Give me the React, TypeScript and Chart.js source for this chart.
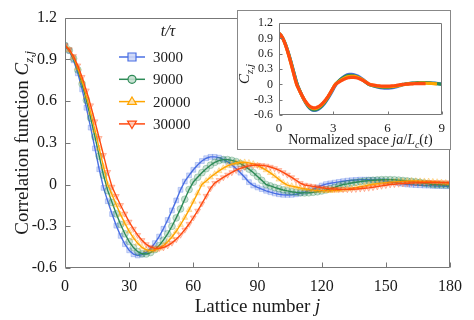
import React, { useEffect, useRef } from "react";
import { Chart, registerables } from "chart.js";

Chart.register(...registerables);

// ---------- data ----------
const latticeJ = [
  0, 2, 4, 6, 8, 10, 12, 14, 16, 18, 20, 22, 24, 26, 28, 30, 32, 34, 36, 38,
  40, 42, 44, 46, 48, 50, 52, 54, 56, 58, 60, 62, 64, 66, 68, 70, 72, 74, 76, 78,
  80, 82, 84, 86, 88, 90, 92, 94, 96, 98, 100, 102, 104, 106, 108, 110, 112, 114, 116, 118,
  120, 122, 124, 126, 128, 130, 132, 134, 136, 138, 140, 142, 144, 146, 148, 150, 152, 154, 156, 158,
  160, 162, 164, 166, 168, 170, 172, 174, 176, 178, 180,
];

const corr3000 = [
  1.0, 0.961, 0.893, 0.799, 0.684, 0.552, 0.409, 0.26, 0.11,
  -0.024, -0.12, -0.212, -0.296, -0.369, -0.429, -0.473, -0.501, -0.51,
  -0.504, -0.487, -0.46, -0.421, -0.374, -0.318, -0.255, -0.186, -0.114, -0.038,
  0.022, 0.066, 0.106, 0.141, 0.169, 0.189, 0.199,
  0.199, 0.193, 0.181, 0.164, 0.141, 0.115, 0.085, 0.052, 0.017,
  -0.007, -0.021, -0.033, -0.045, -0.055, -0.064, -0.07, -0.074, -0.075,
  -0.074, -0.07, -0.064, -0.055, -0.045, -0.033, -0.021, -0.007,
  0.003, 0.009, 0.014, 0.019, 0.024, 0.028, 0.031, 0.033, 0.035, 0.035,
  0.035, 0.033, 0.031, 0.028, 0.025, 0.021, 0.016, 0.011, 0.005, 0.0,
  -0.002, -0.004, -0.005, -0.007, -0.008, -0.01, -0.011, -0.011, -0.012, -0.012,
];

const corr9000 = [
  1.0, 0.965, 0.906, 0.824, 0.723, 0.606, 0.478, 0.343, 0.204, 0.067,
  -0.044, -0.129, -0.211, -0.287, -0.354, -0.41, -0.453, -0.483, -0.498,
  -0.499, -0.489, -0.468, -0.439, -0.4, -0.354, -0.3, -0.24, -0.175, -0.106, -0.036,
  0.018, 0.052, 0.085, 0.114, 0.139, 0.159, 0.172, 0.179,
  0.179, 0.174, 0.165, 0.151, 0.132, 0.111, 0.086, 0.058, 0.03, 0.0,
  -0.01, -0.021, -0.03, -0.039, -0.046, -0.052, -0.056, -0.059, -0.06,
  -0.059, -0.056, -0.052, -0.046, -0.039, -0.03, -0.021, -0.01, 0.0,
  0.005, 0.011, 0.016, 0.021, 0.025, 0.028, 0.031, 0.033, 0.035, 0.035,
  0.035, 0.034, 0.032, 0.029, 0.026, 0.023, 0.019, 0.015, 0.01, 0.005, 0.0,
  -0.001, -0.002, -0.003, -0.004,
];

const corr20000 = [
  1.0, 0.968, 0.913, 0.838, 0.744, 0.636, 0.517, 0.39, 0.26, 0.128, 0.0,
  -0.074, -0.147, -0.216, -0.279, -0.336, -0.384, -0.423, -0.452, -0.469, -0.475,
  -0.471, -0.459, -0.439, -0.411, -0.377, -0.336, -0.289, -0.238, -0.182, -0.123, -0.062, 0.0,
  0.026, 0.052, 0.076, 0.098, 0.118, 0.134, 0.147, 0.155, 0.16,
  0.16, 0.156, 0.148, 0.136, 0.122, 0.104, 0.084, 0.061, 0.037, 0.013,
  -0.004, -0.011, -0.018, -0.025, -0.03, -0.036, -0.04, -0.043, -0.044, -0.045,
  -0.045, -0.043, -0.041, -0.037, -0.033, -0.028, -0.023, -0.016, -0.01, -0.003,
  0.002, 0.006, 0.01, 0.013, 0.016, 0.019, 0.021, 0.023, 0.024, 0.025,
  0.025, 0.024, 0.023, 0.022, 0.02, 0.018, 0.015, 0.012, 0.009,
];

const corr30000 = [
  1.0, 0.971, 0.922, 0.855, 0.772, 0.675, 0.568, 0.453, 0.333, 0.211, 0.089,
  -0.017, -0.084, -0.149, -0.21, -0.268, -0.319, -0.364, -0.401, -0.43, -0.449, -0.459,
  -0.459, -0.453, -0.439, -0.419, -0.394, -0.362, -0.325, -0.284, -0.238, -0.189, -0.137, -0.083, -0.028,
  0.01, 0.031, 0.051, 0.07, 0.087, 0.103, 0.116, 0.126, 0.134, 0.138, 0.14,
  0.138, 0.134, 0.126, 0.116, 0.103, 0.087, 0.07, 0.051, 0.031, 0.01,
  -0.003, -0.008, -0.013, -0.018, -0.023, -0.027, -0.03, -0.032, -0.034, -0.035,
  -0.035, -0.034, -0.033, -0.03, -0.027, -0.024, -0.02, -0.015, -0.01, -0.005,
  0.0, 0.002, 0.005, 0.007, 0.009, 0.011, 0.012, 0.013, 0.014, 0.015, 0.015,
  0.015, 0.014, 0.014, 0.013,
];

const seriesValues = [corr3000, corr9000, corr20000, corr30000];
const seriesLabels = ["3000", "9000", "20000", "30000"];
const coherenceLengths = [17.5, 19.0, 20.6, 22.2];

const xTicks = [0, 30, 60, 90, 120, 150, 180];
const yTicks = [-0.6, -0.3, 0, 0.3, 0.6, 0.9, 1.2];
const yTickLabels = ["-0.6", "-0.3", "0", "0.3", "0.6", "0.9", "1.2"];
const insetXTicks = [0, 3, 6, 9];

// ---------- styles ----------
const seriesColors = ["#4a6fe3", "#2e8b57", "#ffa500", "#ff4a10"];
const markerStyles = ["rect", "circle", "triangle", "triangle"];
const markerRotations = [0, 0, 0, 180];
const FONT = "'Liberation Serif', 'Times New Roman', serif";
const AXIS_COLOR = "#777";
const TEXT_COLOR = "#1a1a1a";

function rgba(hex: string, a: number) {
  const n = parseInt(hex.slice(1), 16);
  return `rgba(${(n >> 16) & 255},${(n >> 8) & 255},${n & 255},${a})`;
}

type Seg = { t: string; it?: boolean; sub?: boolean };

function drawRich(ctx: CanvasRenderingContext2D, segs: Seg[], x: number, y: number, size: number) {
  const fontFor = (s: Seg) =>
    `${s.it ? "italic " : ""}${s.sub ? Math.round(size * 0.7) : size}px ${FONT}`;
  let total = 0;
  for (const s of segs) {
    ctx.font = fontFor(s);
    total += ctx.measureText(s.t).width;
  }
  let cx = x - total / 2;
  ctx.textAlign = "left";
  ctx.textBaseline = "alphabetic";
  ctx.fillStyle = TEXT_COLOR;
  for (const s of segs) {
    ctx.font = fontFor(s);
    ctx.fillText(s.t, cx, y + (s.sub ? size * 0.28 : 0));
    cx += ctx.measureText(s.t).width;
  }
}

function drawFrame(chart: any, tickLen: number, xVals: number[], yVals: number[]) {
  const { ctx, chartArea: a, scales } = chart;
  const L = Math.round(a.left) + 0.5;
  const R = Math.round(a.right) - 0.5;
  const T = Math.round(a.top) + 0.5;
  const B = Math.round(a.bottom) - 0.5;
  ctx.save();
  ctx.strokeStyle = AXIS_COLOR;
  ctx.lineWidth = 1;
  ctx.beginPath();
  ctx.rect(L, T, R - L, B - T);
  for (const v of xVals) {
    const px = Math.round(scales.x.getPixelForValue(v)) + 0.5;
    ctx.moveTo(px, B);
    ctx.lineTo(px, B - tickLen);
  }
  for (const v of yVals) {
    const py = Math.round(scales.y.getPixelForValue(v)) + 0.5;
    ctx.moveTo(L, py);
    ctx.lineTo(L + tickLen, py);
  }
  ctx.stroke();
  ctx.restore();
}

function drawMarker(ctx: CanvasRenderingContext2D, k: number, x: number, y: number, r: number) {
  const style = markerStyles[k];
  ctx.beginPath();
  if (style === "rect") {
    ctx.rect(x - r, y - r, 2 * r, 2 * r);
  } else if (style === "circle") {
    ctx.arc(x, y, r, 0, Math.PI * 2);
  } else {
    const s = markerRotations[k] === 180 ? -1 : 1;
    ctx.moveTo(x, y - s * r * 1.15);
    ctx.lineTo(x + r * 1.1, y + s * r * 0.7);
    ctx.lineTo(x - r * 1.1, y + s * r * 0.7);
    ctx.closePath();
  }
  ctx.fillStyle = "rgba(255,255,255,0.85)";
  ctx.fill();
  ctx.fillStyle = rgba(seriesColors[k], 0.25);
  ctx.fill();
  ctx.strokeStyle = seriesColors[k];
  ctx.lineWidth = 1.2;
  ctx.stroke();
}

const mainDecor = {
  id: "mainDecor",
  afterDraw(chart: any) {
    const { ctx, chartArea: a } = chart;
    drawFrame(chart, 5, xTicks, yTicks);
    ctx.save();
    drawRich(ctx, [{ t: "Lattice number " }, { t: "j", it: true }], (a.left + a.right) / 2, 312, 19);
    ctx.translate(22, (a.top + a.bottom) / 2);
    ctx.rotate(-Math.PI / 2);
    drawRich(
      ctx,
      [{ t: "Correlation function " }, { t: "C", it: true }, { t: "z,j", it: true, sub: true }],
      0,
      6,
      19
    );
    ctx.restore();

    ctx.save();
    ctx.fillStyle = TEXT_COLOR;
    ctx.font = `italic 16px ${FONT}`;
    ctx.textAlign = "center";
    ctx.textBaseline = "middle";
    ctx.fillText("t/\u03c4", 168, 32);
    for (let k = 0; k < seriesLabels.length; k++) {
      const y = 57 + k * 22.3;
      ctx.strokeStyle = seriesColors[k];
      ctx.lineWidth = 1.5;
      ctx.beginPath();
      ctx.moveTo(119, y);
      ctx.lineTo(145, y);
      ctx.stroke();
      drawMarker(ctx, k, 132, y, 4);
      ctx.fillStyle = TEXT_COLOR;
      ctx.font = `15px ${FONT}`;
      ctx.textAlign = "left";
      ctx.textBaseline = "middle";
      ctx.fillText(seriesLabels[k], 153, y + 1);
    }
    ctx.restore();
  },
};

const insetDecor = {
  id: "insetDecor",
  beforeDraw(chart: any) {
    const { ctx, width, height } = chart;
    ctx.save();
    ctx.fillStyle = "#fff";
    ctx.fillRect(0, 0, width, height);
    ctx.restore();
  },
  afterDraw(chart: any) {
    const { ctx, chartArea: a, width, height } = chart;
    drawFrame(chart, 3, insetXTicks, yTicks);
    ctx.save();
    ctx.strokeStyle = "#888";
    ctx.lineWidth = 1;
    ctx.strokeRect(0.5, 0.5, width - 1, height - 1);
    drawRich(
      ctx,
      [
        { t: "Normalized space " },
        { t: "ja", it: true },
        { t: "/" },
        { t: "L", it: true },
        { t: "c", it: true, sub: true },
        { t: "(" },
        { t: "t", it: true },
        { t: ")" },
      ],
      (a.left + a.right) / 2,
      134,
      14
    );
    ctx.translate(12, 64);
    ctx.rotate(-Math.PI / 2);
    drawRich(ctx, [{ t: "C", it: true }, { t: "z,j", it: true, sub: true }], 0, 0, 15);
    ctx.restore();
  },
};

export default function App() {
  const mainRef = useRef<HTMLCanvasElement>(null);
  const insetRef = useRef<HTMLCanvasElement>(null);

  useEffect(() => {
    const mainDatasets = seriesValues.map((vals, k) => ({
      label: seriesLabels[k],
      data: latticeJ.map((j, i) => ({ x: j, y: vals[i] })),
      borderColor: seriesColors[k],
      borderWidth: 1.4,
      pointStyle: markerStyles[k],
      pointRotation: markerRotations[k],
      pointRadius: 3.4,
      pointBackgroundColor: rgba(seriesColors[k], 0.25),
      pointBorderColor: rgba(seriesColors[k], 0.3),
      pointBorderWidth: 1,
      order: 3 - k,
      tension: 0,
    }));

    const main = new Chart(mainRef.current as HTMLCanvasElement, {
      type: "line",
      data: { datasets: mainDatasets as any },
      plugins: [mainDecor],
      options: {
        responsive: false,
        animation: false,
        events: [],
        layout: { padding: { top: 10, right: 24, left: 0, bottom: 0 } },
        plugins: { legend: { display: false }, tooltip: { enabled: false } },
        scales: {
          x: {
            type: "linear",
            min: 0,
            max: 180,
            grid: { display: false, drawTicks: false },
            border: { display: false },
            afterBuildTicks: (s: any) => {
              s.ticks = xTicks.map((v) => ({ value: v }));
            },
            afterFit: (s: any) => {
              s.height = 52;
            },
            ticks: {
              padding: 9,
              maxRotation: 0,
              autoSkip: false,
              color: TEXT_COLOR,
              font: { family: FONT, size: 16 },
              callback: (v: any) => String(v),
            },
          },
          y: {
            type: "linear",
            min: -0.6,
            max: 1.2,
            grid: { display: false, drawTicks: false },
            border: { display: false },
            afterBuildTicks: (s: any) => {
              s.ticks = yTicks.map((v) => ({ value: v }));
            },
            afterFit: (s: any) => {
              s.width = 65;
            },
            ticks: {
              padding: 8,
              autoSkip: false,
              color: TEXT_COLOR,
              font: { family: FONT, size: 16 },
              callback: (_v: any, i: number) => yTickLabels[i],
            },
          },
        },
      } as any,
    });

    const insetDatasets = seriesValues.map((vals, k) => ({
      label: seriesLabels[k],
      data: latticeJ.map((j, i) => ({ x: j / coherenceLengths[k], y: vals[i] })),
      borderColor: seriesColors[k],
      borderWidth: 3.2,
      pointRadius: 0,
      order: 3 - k,
      tension: 0,
    }));

    const inset = new Chart(insetRef.current as HTMLCanvasElement, {
      type: "line",
      data: { datasets: insetDatasets as any },
      plugins: [insetDecor],
      options: {
        responsive: false,
        animation: false,
        events: [],
        layout: { padding: { top: 6, right: 9, left: 0, bottom: 0 } },
        plugins: { legend: { display: false }, tooltip: { enabled: false } },
        scales: {
          x: {
            type: "linear",
            min: 0,
            max: 9,
            grid: { display: false, drawTicks: false },
            border: { display: false },
            afterBuildTicks: (s: any) => {
              s.ticks = insetXTicks.map((v) => ({ value: v }));
            },
            afterFit: (s: any) => {
              s.height = 35;
            },
            ticks: {
              padding: 6,
              maxRotation: 0,
              autoSkip: false,
              color: TEXT_COLOR,
              font: { family: FONT, size: 13 },
              callback: (v: any) => String(v),
            },
          },
          y: {
            type: "linear",
            min: -0.6,
            max: 1.2,
            grid: { display: false, drawTicks: false },
            border: { display: false },
            afterBuildTicks: (s: any) => {
              s.ticks = yTicks.map((v) => ({ value: v }));
            },
            afterFit: (s: any) => {
              s.width = 42;
            },
            ticks: {
              padding: 6,
              autoSkip: false,
              color: TEXT_COLOR,
              font: { family: FONT, size: 12 },
              callback: (_v: any, i: number) => yTickLabels[i],
            },
          },
        },
      } as any,
    });

    return () => {
      main.destroy();
      inset.destroy();
    };
  }, []);

  return (
    <div style={{ position: "absolute", left: 0, top: 0, width: 474, height: 320, background: "#fff" }}>
      <canvas
        ref={mainRef}
        width={474}
        height={320}
        style={{ position: "absolute", left: 0, top: 0, width: 474, height: 320 }}
      />
      <canvas
        ref={insetRef}
        width={214}
        height={140}
        style={{ position: "absolute", left: 237, top: 10, width: 214, height: 140 }}
      />
    </div>
  );
}
